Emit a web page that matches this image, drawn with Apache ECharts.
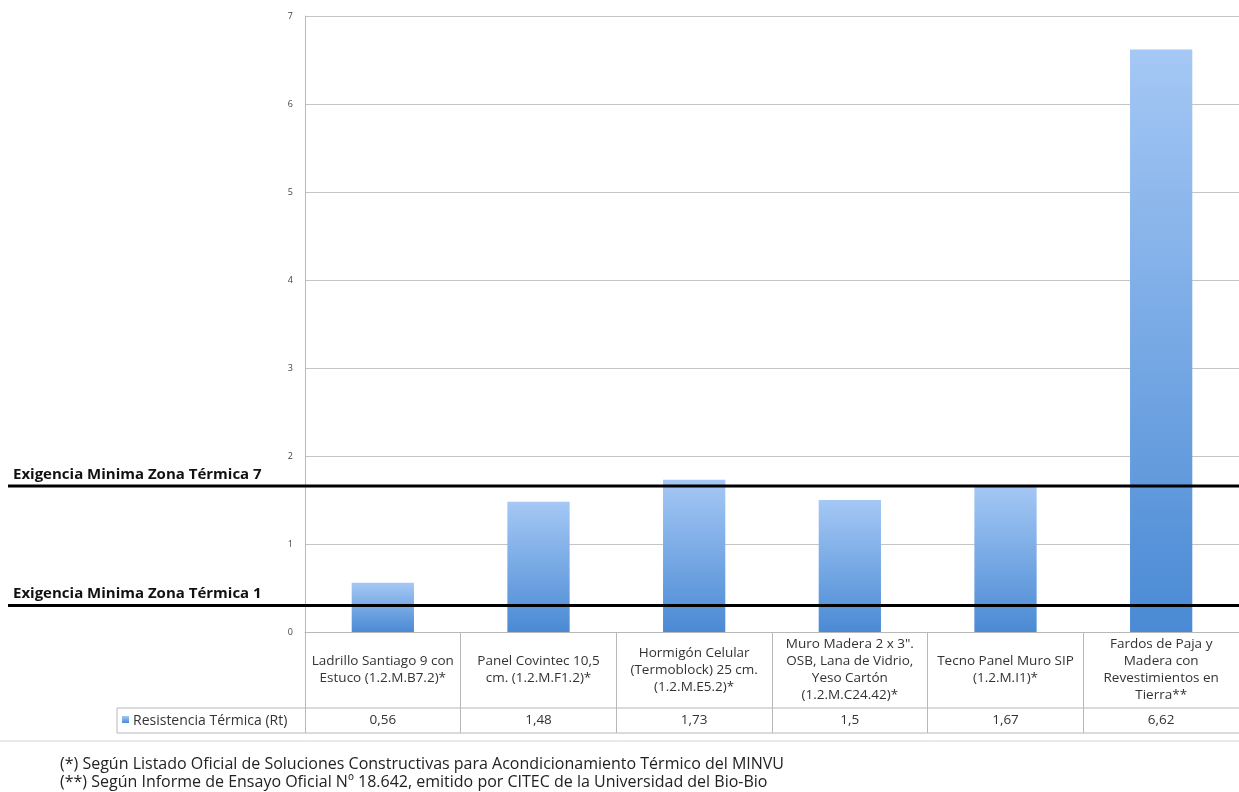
<!DOCTYPE html>
<html><head><meta charset="utf-8">
<script src="https://cdn.jsdelivr.net/npm/echarts@6/dist/echarts.min.js"></script>
<style>html,body{margin:0;padding:0;background:#fff}#c{width:1239px;height:792px}</style>
</head><body><div id="c"></div>
<script>
const categories = [
  "Ladrillo Santiago 9 con\nEstuco (1.2.M.B7.2)*",
  "Panel Covintec 10,5\ncm. (1.2.M.F1.2)*",
  "Hormigón Celular\n(Termoblock) 25 cm.\n(1.2.M.E5.2)*",
  "Muro Madera 2 x 3\".\nOSB, Lana de Vidrio,\nYeso Cartón\n(1.2.M.C24.42)*",
  "Tecno Panel Muro SIP\n(1.2.M.I1)*",
  "Fardos de Paja y\nMadera con\nRevestimientos en\nTierra**"
];
const seriesName = "Resistencia Térmica (Rt)";
const values = [0.56, 1.48, 1.73, 1.5, 1.67, 6.62];
const valueLabels = ["0,56", "1,48", "1,73", "1,5", "1,67", "6,62"];
const yTicks = [0, 1, 2, 3, 4, 5, 6, 7];
const thresholds = [
  { label: "Exigencia Minima Zona Térmica 7", value: 1.66 },
  { label: "Exigencia Minima Zona Térmica 1", value: 0.30 }
];
const footnotes = [
  "(*) Según Listado Oficial de Soluciones Constructivas para Acondicionamiento Térmico del MINVU",
  "(**) Según Informe de Ensayo Oficial Nº 18.642, emitido por CITEC de la Universidad del Bio-Bio"
];

const FONT = '"Open Sans", "Noto Sans", sans-serif';
const chart = echarts.init(document.getElementById('c'), null, {renderer: 'canvas'});
const barGrad = () => new echarts.graphic.LinearGradient(0, 0, 0, 1, [
  { offset: 0, color: '#a5c8f5' },
  { offset: 1, color: '#4a8ad4' }
]);
const option = {
  animation: false,
  grid: { left: 305, right: 0, top: 16, bottom: 160 },
  xAxis: [{
    type: 'category',
    data: categories,
    boundaryGap: true,
    axisLine: { lineStyle: { color: '#b8b8b8' } },
    axisTick: { show: true, length: 101, lineStyle: { color: '#b8b8b8' } },
    axisLabel: {
      interval: 0, margin: 38, verticalAlign: 'middle', align: 'center',
      fontFamily: FONT, fontSize: 13.5, color: '#333', lineHeight: 17
    }
  }, {
    type: 'category',
    data: valueLabels,
    position: 'bottom',
    offset: 76,
    axisLine: { show: false },
    axisTick: { show: false },
    axisLabel: {
      interval: 0, margin: 12, verticalAlign: 'middle', align: 'center',
      fontFamily: FONT, fontSize: 13.5, color: '#333'
    }
  }],
  yAxis: {
    type: 'value', min: 0, max: 7, interval: 1,
    axisLine: { show: true, lineStyle: { color: '#b8b8b8' } },
    axisTick: { show: false },
    axisLabel: { fontSize: 9, color: '#444', margin: 12, fontFamily: FONT,
      formatter: v => yTicks.includes(v) ? String(v) : '' },
    splitLine: { lineStyle: { color: '#c4c4c4' } }
  },
  series: [{
    name: seriesName,
    type: 'bar',
    data: values,
    barWidth: '40%',
    itemStyle: { color: barGrad() }
  }]
};
chart.setOption(option);

const g = [];
thresholds.forEach(t => {
  const y = chart.convertToPixel({ yAxisIndex: 0 }, t.value);
  g.push({ type: 'line', z: 100, shape: { x1: 8, y1: y, x2: 1239, y2: y },
    style: { stroke: '#000', lineWidth: 3 } });
  g.push({ type: 'text', z: 100, x: 13, y: y - 4,
    style: { text: t.label, font: 'bold 15px ' + FONT, fill: '#111',
      textVerticalAlign: 'bottom' } });
});
g.push({ type: 'line', shape: { x1: 117, y1: 708, x2: 1239, y2: 708 }, style: { stroke: '#b8b8b8', lineWidth: 1 } });
g.push({ type: 'line', shape: { x1: 117, y1: 733, x2: 1239, y2: 733 }, style: { stroke: '#b8b8b8', lineWidth: 1 } });
g.push({ type: 'line', shape: { x1: 117, y1: 708, x2: 117, y2: 733 }, style: { stroke: '#b8b8b8', lineWidth: 1 } });
g.push({ type: 'line', shape: { x1: 0, y1: 741, x2: 1239, y2: 741 }, style: { stroke: '#d4d4d4', lineWidth: 1 } });
g.push({ type: 'rect', shape: { x: 122, y: 716, width: 7, height: 7 }, style: { fill: barGrad() } });
g.push({ type: 'text', x: 133, y: 721, style: { text: seriesName, font: '14px ' + FONT, fill: '#333', textVerticalAlign: 'middle' } });
footnotes.forEach((f, i) => {
  g.push({ type: 'text', x: 60, y: 764 + i * 18, style: { text: f, font: '16px ' + FONT, fill: '#222', textVerticalAlign: 'middle' } });
});
chart.setOption({ graphic: g });
</script>
</body></html>
